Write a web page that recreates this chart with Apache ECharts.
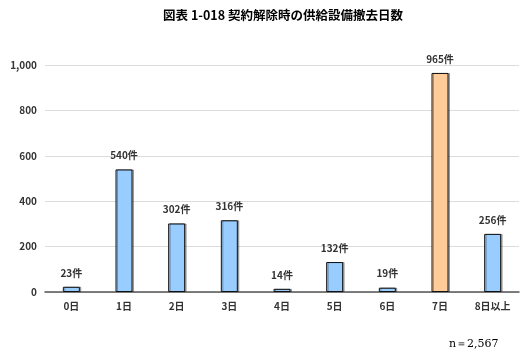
<!DOCTYPE html>
<html><head><meta charset="utf-8">
<script src="https://cdn.jsdelivr.net/npm/echarts@6/dist/echarts.min.js"></script>
<style>html,body{margin:0;padding:0;background:#fff}#c{width:527px;height:358px}</style>
</head><body><div id="c"></div>
<script>
const categories = ['0日','1日','2日','3日','4日','5日','6日','7日','8日以上'];
const values = [23, 540, 302, 316, 14, 132, 19, 965, 256];
const highlightIndex = 7;
const yTicks = [0, 200, 400, 600, 800, 1000];
const titleText = '図表 1-018 契約解除時の供給設備撤去日数';
const noteText = 'n＝2,567';

const chart = echarts.init(document.getElementById('c'));
const font = '"Noto Sans CJK JP", sans-serif';
chart.setOption({
  animation: false,
  title: [{
    text: titleText, left: 278, top: 4, textAlign: 'center',
    textStyle: {fontFamily: font, fontSize: 12.5, fontWeight: 'bold', color: '#000'}
  }, {
    text: noteText, left: 444, top: 334,
    textStyle: {fontFamily: '"DejaVu Serif", serif', fontSize: 11, fontWeight: 'normal', color: '#000'}
  }],
  grid: {left: 45, right: 8, top: 65, bottom: 66, containLabel: false},
  xAxis: {
    type: 'category', data: categories,
    axisLine: {lineStyle: {color: '#555', width: 1.5}},
    axisTick: {show: false},
    axisLabel: {fontFamily: font, fontSize: 10, fontWeight: 'bold', color: '#333', margin: 9}
  },
  yAxis: {
    type: 'value', min: 0, max: 1000, interval: 200,
    axisLine: {show: false}, axisTick: {show: false},
    splitLine: {lineStyle: {color: '#dcdcdc'}},
    axisLabel: {fontFamily: font, fontSize: 10, fontWeight: 'bold', color: '#333', margin: 8,
      formatter: v => yTicks.includes(v) ? v.toLocaleString('en-US') : ''}
  },
  series: [{
    type: 'bar', barWidth: 17,
    data: values.map((v, i) => ({
      value: v,
      itemStyle: {color: i === highlightIndex ? '#ffcc99' : '#99ccff'}
    })),
    itemStyle: {borderColor: '#111', borderWidth: 1,
      shadowColor: 'rgba(0,0,0,0.3)', shadowOffsetX: 1.5, shadowOffsetY: 0, shadowBlur: 0},
    label: {show: true, position: 'top', distance: 9, formatter: p => p.value + '件',
      fontFamily: font, fontSize: 10, fontWeight: 'bold', color: '#333'}
  }]
});
</script></body></html>
